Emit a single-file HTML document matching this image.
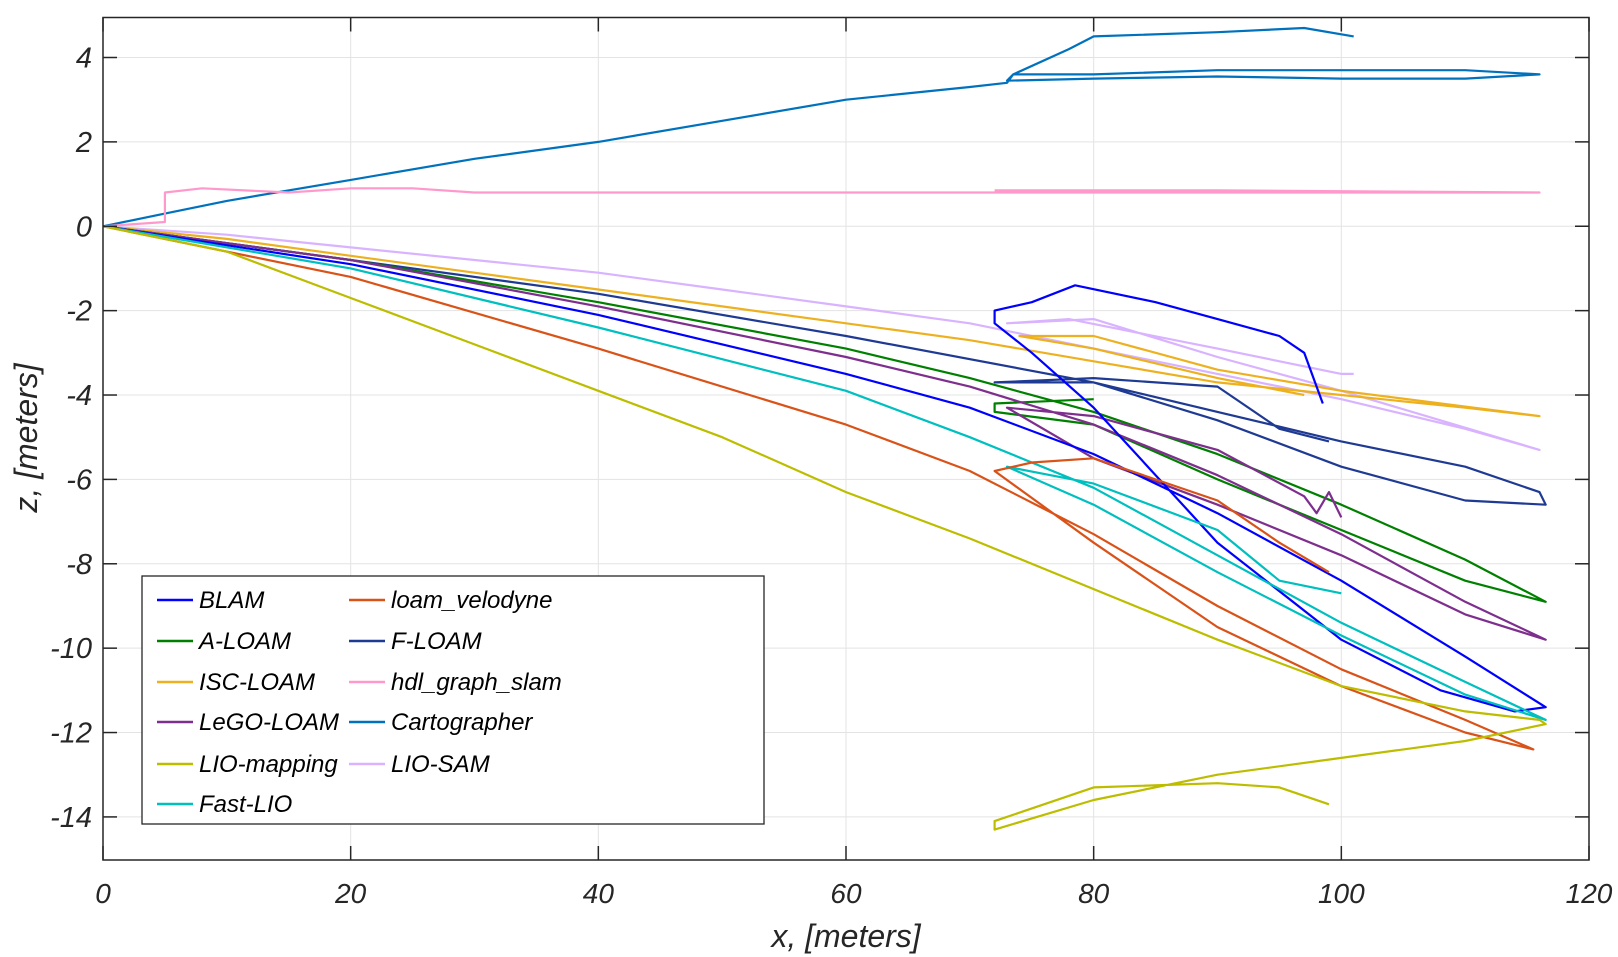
<!DOCTYPE html>
<html><head><meta charset="utf-8"><style>
html,body{margin:0;padding:0;background:#fff;}
svg{display:block;font-family:"Liberation Sans",sans-serif;}
</style></head><body>
<svg id="chart" width="1618" height="957" viewBox="0 0 1618 957"></svg>
<script>
const seriesNames = ["BLAM","A-LOAM","ISC-LOAM","LeGO-LOAM","LIO-mapping","Fast-LIO","loam_velodyne","F-LOAM","hdl_graph_slam","Cartographer","LIO-SAM"];
const seriesColors = ["#0000FF","#008000","#EDB120","#7E2F8E","#BDBD00","#00BFBF","#D95319","#1F3A93","#FF99CC","#0072BD","#D9B3FF"];
const xTicks = [0,20,40,60,80,100,120];
const yTicks = [4,2,0,-2,-4,-6,-8,-10,-12,-14];
const BLAM = [[0,0],[20,-0.9],[40,-2.1],[60,-3.5],[70,-4.3],[80,-5.4],[90,-6.8],[100,-8.4],[110,-10.2],[116.5,-11.4],[114,-11.5],[108,-11],[100,-9.8],[90,-7.5],[80,-4.3],[75,-3],[72,-2.3],[72,-2.0],[75,-1.8],[78.5,-1.4],[85,-1.8],[90,-2.2],[95,-2.6],[97,-3.0],[98,-3.8],[98.5,-4.2]];
const ALOAM = [[0,0],[20,-0.8],[40,-1.8],[60,-2.9],[70,-3.6],[80,-4.4],[90,-5.4],[100,-6.6],[110,-7.9],[116.5,-8.9],[110,-8.4],[100,-7.2],[90,-6.0],[80,-4.7],[72,-4.4],[72,-4.2],[80,-4.1]];
const ISCLOAM = [[0,0],[10,-0.3],[20,-0.7],[30,-1.1],[40,-1.5],[50,-1.9],[60,-2.3],[70,-2.7],[80,-3.2],[90,-3.7],[100,-4.0],[110,-4.3],[116,-4.5],[100,-3.9],[90,-3.4],[80,-2.6],[74,-2.6],[80,-2.9],[90,-3.6],[97,-4.0]];
const LEGOLOAM = [[0,0],[20,-0.8],[40,-1.9],[60,-3.1],[70,-3.8],[80,-4.7],[90,-5.9],[100,-7.3],[110,-8.9],[116.5,-9.8],[110,-9.2],[100,-7.8],[90,-6.6],[80,-5.5],[73,-4.3],[80,-4.5],[90,-5.3],[97,-6.4],[98,-6.8],[99,-6.3],[100,-6.9]];
const LIOMAPPING = [[0,0],[10,-0.6],[20,-1.7],[30,-2.8],[40,-3.9],[50,-5.0],[60,-6.3],[70,-7.4],[80,-8.6],[90,-9.8],[100,-10.9],[110,-11.5],[116,-11.7],[116.5,-11.8],[110,-12.2],[100,-12.6],[90,-13.0],[80,-13.6],[72,-14.3],[72,-14.1],[80,-13.3],[90,-13.2],[95,-13.3],[99,-13.7]];
const FASTLIO = [[0,0],[20,-1.0],[40,-2.4],[60,-3.9],[70,-5.0],[80,-6.2],[90,-7.8],[100,-9.4],[110,-10.8],[116.5,-11.7],[110,-11.1],[100,-9.7],[90,-8.2],[80,-6.6],[73,-5.7],[80,-6.1],[90,-7.2],[95,-8.4],[100,-8.7]];
const LOAMVEL = [[0,0],[20,-1.2],[40,-2.9],[60,-4.7],[70,-5.8],[80,-7.3],[90,-9.0],[100,-10.5],[110,-11.7],[115.5,-12.4],[110,-12.0],[100,-10.9],[90,-9.5],[80,-7.5],[72,-5.8],[75,-5.6],[80,-5.5],[90,-6.5],[95,-7.5],[99,-8.2]];
const FLOAM = [[0,0],[20,-0.8],[40,-1.6],[60,-2.6],[80,-3.7],[90,-4.4],[100,-5.1],[110,-5.7],[116,-6.3],[116.5,-6.6],[110,-6.5],[100,-5.7],[90,-4.6],[80,-3.7],[72,-3.7],[80,-3.6],[90,-3.8],[95,-4.8],[99,-5.1]];
const HDL = [[0,0],[5,0.1],[5,0.8],[8,0.9],[15,0.8],[20,0.9],[25,0.9],[30,0.8],[40,0.8],[50,0.8],[60,0.8],[70,0.8],[80,0.8],[90,0.8],[100,0.8],[116,0.8],[90,0.85],[72,0.85]];
const CARTO = [[0,0],[5,0.3],[10,0.6],[20,1.1],[30,1.6],[40,2.0],[50,2.5],[60,3.0],[70,3.3],[73,3.4],[73.5,3.6],[80,3.6],[90,3.7],[100,3.7],[110,3.7],[116,3.6],[110,3.5],[100,3.5],[90,3.55],[80,3.5],[73,3.45],[73.5,3.6],[78,4.2],[80,4.5],[90,4.6],[97,4.7],[101,4.5]];
const LIOSAM = [[0,0],[10,-0.2],[20,-0.5],[30,-0.8],[40,-1.1],[50,-1.5],[60,-1.9],[70,-2.3],[80,-2.9],[90,-3.5],[100,-4.1],[110,-4.8],[116,-5.3],[100,-3.9],[90,-3.1],[80,-2.2],[73,-2.3],[78,-2.2],[90,-2.9],[100,-3.5],[101,-3.5]];
const seriesData = [BLAM,ALOAM,ISCLOAM,LEGOLOAM,LIOMAPPING,FASTLIO,LOAMVEL,FLOAM,HDL,CARTO,LIOSAM];
const drawOrder = [9,8,10,2,7,1,3,0,5,6,4];

const NS="http://www.w3.org/2000/svg";
const svg=document.getElementById('chart');
const L=103,R=1589,T=17.5,B=860;
const sx=v=>L+(v-0)/120*(R-L);
const sy=v=>57.5+(4-v)*42.19;
function el(tag,attrs,parent){const e=document.createElementNS(NS,tag);for(const k in attrs)e.setAttribute(k,attrs[k]);(parent||svg).appendChild(e);return e;}

xTicks.forEach(t=>{const g=el('line',{x1:sx(t),x2:sx(t),y1:T,y2:B,stroke:'#e3e3e3','stroke-width':1});

});
yTicks.forEach(t=>{const g=el('line',{x1:L,x2:R,y1:sy(t),y2:sy(t),stroke:'#e3e3e3','stroke-width':1});

});

drawOrder.forEach(i=>{
  const pts=seriesData[i].map(p=>sx(p[0]).toFixed(1)+','+sy(p[1]).toFixed(1)).join(' ');
  const pl=el('polyline',{points:pts,fill:'none',stroke:seriesColors[i],'stroke-width':2.2,'stroke-linejoin':'round'});
  
  
});

const box=el('rect',{x:L,y:T,width:R-L,height:B-T,fill:'none',stroke:'#262626','stroke-width':1.5});


xTicks.forEach(t=>{
  el('line',{x1:sx(t),x2:sx(t),y1:B,y2:B-14,stroke:'#262626','stroke-width':1.5});
  el('line',{x1:sx(t),x2:sx(t),y1:T,y2:T+14,stroke:'#262626','stroke-width':1.5});
  const tx=el('text',{x:sx(t),y:903,'text-anchor':'middle','font-size':28,'font-style':'italic',fill:'#262626'});
  tx.textContent=t;
  
  
});
yTicks.forEach(t=>{
  el('line',{x1:L,x2:L+14,y1:sy(t),y2:sy(t),stroke:'#262626','stroke-width':1.5});
  el('line',{x1:R,x2:R-14,y1:sy(t),y2:sy(t),stroke:'#262626','stroke-width':1.5});
  const tx=el('text',{x:92,y:sy(t)+10,'text-anchor':'end','font-size':29,'font-style':'italic',fill:'#262626'});
  tx.textContent=t;
  
  
});
const xl=el('text',{x:846,y:947,'text-anchor':'middle','font-size':32,'font-style':'italic',fill:'#262626'});
xl.textContent='x, [meters]';


const yl=el('text',{x:0,y:0,'text-anchor':'middle','font-size':32,'font-style':'italic',fill:'#262626',transform:'translate(37,438) rotate(-90)'});
yl.textContent='z, [meters]';



const lg=el('g',{});


el('rect',{x:142,y:576,width:622,height:248,fill:'#fff',stroke:'#262626','stroke-width':1.3},lg);
const legOrder=[[0,6],[1,7],[2,8],[3,9],[4,10],[5,null]];
const rowsY=[600,641,682,722,764,804];
legOrder.forEach((row,r)=>{
  row.forEach((si,c)=>{
    if(si===null)return;
    const g=el('g',{},lg);
    
    
    const x0=c===0?157:349;
    el('line',{x1:x0,x2:x0+36,y1:rowsY[r],y2:rowsY[r],stroke:seriesColors[si],'stroke-width':2.5},g);
    const t=el('text',{x:x0+42,y:rowsY[r]+8,'font-size':24,'font-style':'italic',fill:'#000'},g);
    t.textContent=seriesNames[si];
  });
});
</script>
</body></html>
